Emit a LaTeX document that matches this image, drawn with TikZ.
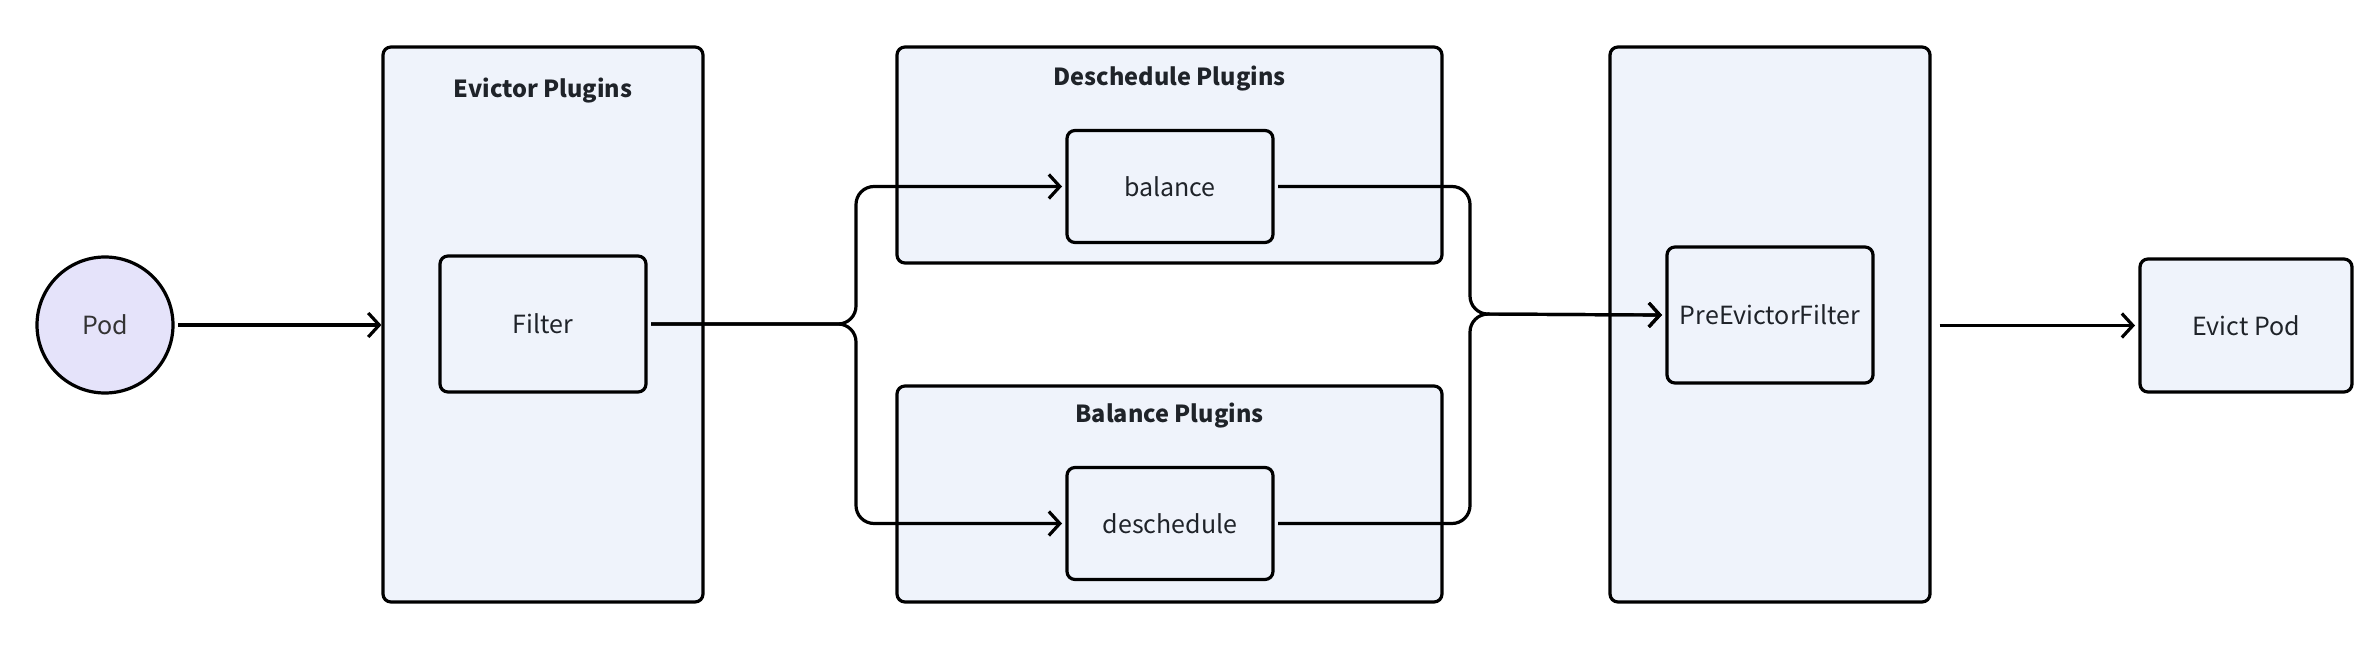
\documentclass[tikz,border=0pt]{standalone}
\usepackage{fontspec}
\setmainfont{Noto Sans CJK SC}
\usetikzlibrary{arrows.meta}
\definecolor{boxfill}{HTML}{EFF3FB}
\definecolor{podfill}{HTML}{E5E3FA}
\definecolor{txt}{HTML}{1F2329}
\tikzset{
  line/.style={line width=3.2pt, black},
  frame/.style={draw=black, line width=3.2pt, fill=boxfill, rounded corners=8pt, inner sep=0pt},
  item/.style={draw=black, line width=3.2pt, fill=boxfill, rounded corners=8pt, inner sep=0pt, text=txt, font=\fontsize{25}{30}\selectfont, outer sep=5pt},
  title/.style={text=txt, font=\bfseries\fontsize{23.5}{28}\selectfont, inner sep=0pt},
  arr/.style={line, -{Straight Barb[length=11pt,width=24pt,line width=3.2pt]}},
  conn/.style={line, rounded corners=18pt},
}
\begin{document}
\begin{tikzpicture}[x=1pt,y=-1pt]
\useasboundingbox (0,0) rectangle (2372,652);
% containers
\node[frame, minimum width=320pt, minimum height=555pt] (evbox) at (543,324.5) {};
\node[frame, minimum width=545pt, minimum height=216pt] (dsbox) at (1169.5,155) {};
\node[frame, minimum width=545pt, minimum height=216pt] (blbox) at (1169.5,494) {};
\node[frame, minimum width=320pt, minimum height=555pt] (pfbox) at (1770,324.5) {};
% titles
\node[title] (evt) at (543,91) {Evictor Plugins};
\node[title] (dst) at (1169.5,79) {Deschedule Plugins};
\node[title] (blt) at (1169.5,416) {Balance Plugins};
% items
\node[circle, draw=black, line width=3.2pt, fill=podfill, minimum size=136pt, inner sep=0pt, text=black!80, font=\fontsize{25}{30}\selectfont, outer sep=5pt] (pod) at (105,325) {Pod};
\node[item, minimum width=206pt, minimum height=136pt] (filter) at (543,324) {Filter};
\node[item, minimum width=206pt, minimum height=112pt] (balance) at (1170,186.5) {balance};
\node[item, minimum width=206pt, minimum height=112pt] (desched) at (1170,523.5) {deschedule};
\node[item, minimum width=206pt, minimum height=136pt] (pre) at (1770,315) {PreEvictorFilter};
\node[item, minimum width=212pt, minimum height=133pt] (evict) at (2246,325.5) {Evict Pod};
% junction coordinates
\coordinate (lj) at (856,324);
\coordinate (rj) at (1470,314);
% connectors
\draw[arr] (pod.east) -- (evbox.west |- pod.east);
\draw[arr, conn] (filter.east) -- (lj) -- (lj |- balance.west) -- (balance.west);
\draw[arr, conn] (filter.east) -- (lj) -- (lj |- desched.west) -- (desched.west);
\draw[arr, conn] (balance.east) -- (rj |- balance.east) -- (rj) -- (pre.west);
\draw[arr, conn] (desched.east) -- (rj |- desched.east) -- (rj) -- (pre.west);
\draw[arr] ([xshift=8pt]pfbox.east |- evict.west) -- (evict.west);
\end{tikzpicture}
\end{document}
